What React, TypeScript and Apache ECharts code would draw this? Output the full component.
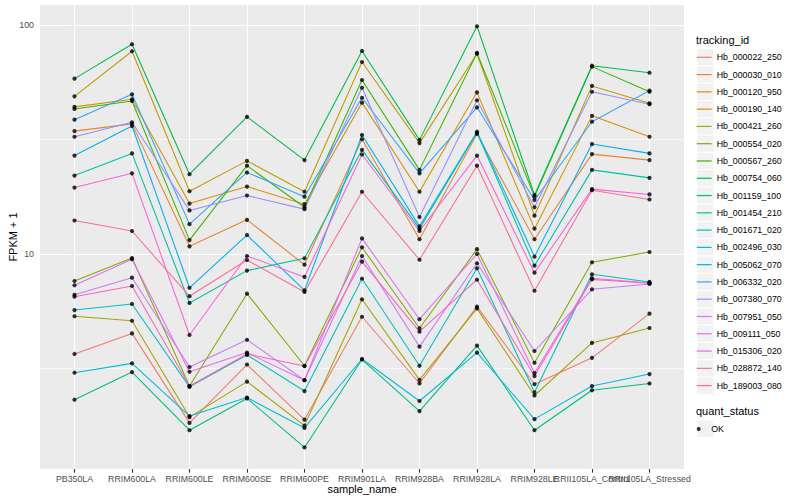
import React, { useEffect, useRef } from 'react';
import * as echarts from 'echarts';

const categories = ['PB350LA', 'RRIM600LA', 'RRIM600LE', 'RRIM600SE', 'RRIM600PE', 'RRIM901LA', 'RRIM928BA', 'RRIM928LA', 'RRIM928LE', 'RRII105LA_Control', 'RRII105LA_Stressed'];

const trackingIds = ['Hb_000022_250', 'Hb_000030_010', 'Hb_000120_950', 'Hb_000190_140', 'Hb_000421_260', 'Hb_000554_020', 'Hb_000567_260', 'Hb_000754_060', 'Hb_001159_100', 'Hb_001454_210', 'Hb_001671_020', 'Hb_002496_030', 'Hb_005062_070', 'Hb_006332_020', 'Hb_007380_070', 'Hb_007951_050', 'Hb_009111_050', 'Hb_015306_020', 'Hb_028872_140', 'Hb_189003_080'];

const seriesColors = ['#F8766D', '#EA8331', '#D89000', '#C09B00', '#A3A500', '#7CAE00', '#39B600', '#00BB4E', '#00BF7D', '#00C1A3', '#00BFC4', '#00BAE0', '#00B0F6', '#35A2FF', '#9590FF', '#C77CFF', '#E76BF3', '#FA62DB', '#FF62BC', '#FF6C91'];

// FPKM + 1 values, one array per tracking id, in category order
const hb000022_250 = [3.66, 4.50, 1.83, 3.29, 1.89, 5.32, 2.72, 5.89, 2.70, 3.52, 5.49];
const hb000030_010 = [34.4, 37.0, 10.8, 14.1, 8.98, 31.7, 11.6, 33.4, 11.6, 27.3, 25.7];
const hb000120_950 = [43.9, 47.4, 16.6, 19.7, 16.5, 45.8, 18.7, 50.8, 12.9, 40.1, 32.5];
const hb000190_140 = [48.8, 76.8, 18.8, 25.5, 18.7, 68.9, 30.5, 74.9, 14.7, 54.2, 45.5];
const hb000421_260 = [5.35, 5.11, 1.94, 2.77, 1.78, 6.34, 2.82, 5.79, 2.41, 4.09, 4.75];
const hb000554_020 = [7.62, 9.60, 2.65, 6.71, 3.25, 10.7, 4.74, 10.5, 3.35, 9.20, 10.2];
const hb000567_260 = [43.0, 46.6, 11.5, 24.3, 16.0, 57.5, 23.3, 75.5, 17.8, 65.8, 51.1];
const hb000754_060 = [58.3, 82.4, 22.3, 39.7, 25.7, 77.0, 31.5, 98.7, 18.1, 66.4, 61.9];
const hb001159_100 = [2.31, 3.05, 1.70, 2.34, 1.43, 3.46, 2.06, 3.98, 1.70, 2.54, 2.72];
const hb001454_210 = [22.0, 27.5, 6.11, 8.46, 9.58, 28.5, 12.9, 33.9, 8.89, 23.3, 21.5];
const hb001671_020 = [5.69, 6.05, 2.63, 3.62, 2.52, 7.80, 3.25, 8.66, 2.49, 8.15, 7.55];
const hb002496_030 = [3.03, 3.33, 1.96, 2.36, 1.74, 3.48, 2.28, 3.71, 1.90, 2.65, 2.99];
const hb005062_070 = [26.9, 36.2, 7.12, 12.1, 6.94, 33.1, 13.2, 34.2, 9.73, 30.2, 27.5];
const hb006332_020 = [38.6, 49.8, 13.5, 22.7, 17.8, 48.1, 22.5, 43.7, 17.2, 37.8, 51.7];
const hb007380_070 = [32.5, 37.6, 15.5, 18.0, 15.7, 53.2, 14.5, 46.9, 16.0, 51.1, 45.1];
const hb007951_050 = [6.64, 7.88, 3.21, 4.22, 2.81, 9.80, 3.94, 9.11, 3.77, 7.01, 7.40];
const hb009111_050 = [7.30, 9.48, 3.06, 3.71, 2.81, 11.7, 5.19, 10.0, 3.02, 7.83, 7.47];
const hb015306_020 = [19.5, 22.5, 4.43, 9.80, 7.94, 27.2, 12.6, 26.9, 8.29, 19.2, 18.2];
const hb028872_140 = [6.51, 7.25, 2.65, 3.66, 3.24, 9.26, 4.58, 7.72, 2.93, 7.75, 7.45];
const hb189003_080 = [14.0, 12.6, 6.54, 9.41, 6.83, 18.7, 9.44, 24.3, 6.91, 19.0, 17.3];

const seriesValues = [hb000022_250, hb000030_010, hb000120_950, hb000190_140, hb000421_260, hb000554_020, hb000567_260, hb000754_060, hb001159_100, hb001454_210, hb001671_020, hb002496_030, hb005062_070, hb006332_020, hb007380_070, hb007951_050, hb009111_050, hb015306_020, hb028872_140, hb189003_080];

// log10 breaks
const yMajorBreaks = [1, 2];
const yMinorBreaks = [0.5, 1.5];
const yTickLabels = ['10', '100'];

const FONT = "'Liberation Sans', Arial, Helvetica, sans-serif";
const KEY = 17.28;
const LEG_LEFT = 696.7;
const LEG1_TOP = 48.66;
const LEG2_TOP = 420.3;

function buildOption() {
  const lineSeries = trackingIds.map((id, s) => ({
    name: id,
    type: 'line',
    xAxisIndex: 0,
    z: 2,
    showSymbol: false,
    symbol: 'none',
    silent: true,
    color: seriesColors[s],
    lineStyle: { width: 1.07, color: seriesColors[s] },
    itemStyle: { color: seriesColors[s] },
    data: seriesValues[s].map((v, i) => [i, Math.log10(v)]),
  }));

  const points: number[][] = [];
  seriesValues.forEach((arr) => arr.forEach((v, i) => points.push([i, Math.log10(v)])));

  const gridLines = [
    ...yMinorBreaks.map((v) => ({ yAxis: v, lineStyle: { width: 0.55 } })),
    ...yMajorBreaks.map((v) => ({ yAxis: v, lineStyle: { width: 1.07 } })),
    ...categories.map((_, i) => ({ xAxis: i, lineStyle: { width: 1.07 } })),
  ];

  const okSeries = {
    name: 'OK',
    type: 'scatter',
    xAxisIndex: 0,
    z: 3,
    silent: true,
    symbol: 'circle',
    symbolSize: 4.2,
    itemStyle: { color: '#000000' },
    data: points,
    markLine: {
      z: 1,
      silent: true,
      symbol: ['none', 'none'],
      label: { show: false },
      emphasis: { disabled: true },
      lineStyle: { color: '#FFFFFF', type: 'solid', width: 1 },
      data: gridLines,
    },
  };

  const keyRects: any[] = [];
  trackingIds.forEach((_, i) => {
    keyRects.push({
      type: 'rect',
      z: 0,
      shape: { x: LEG_LEFT, y: LEG1_TOP + i * KEY, width: KEY, height: KEY },
      style: { fill: '#F2F2F2', stroke: '#FFFFFF', lineWidth: 1 },
    });
  });
  keyRects.push({
    type: 'rect',
    z: 0,
    shape: { x: LEG_LEFT, y: LEG2_TOP, width: KEY, height: KEY },
    style: { fill: '#F2F2F2', stroke: '#FFFFFF', lineWidth: 1 },
  });

  const allIdx = categories.map((_, i) => i);
  // the two neighbouring labels overlap in the original; split them over two axes
  const overlapIdx = [9];
  const mainIdx = allIdx.filter((i) => overlapIdx.indexOf(i) < 0);

  const xLabelBase = {
    formatter: (v: number) => categories[Math.round(v)],
    color: '#4D4D4D',
    fontSize: 8.8,
    fontFamily: FONT,
    margin: 5,
    showMinLabel: true,
    showMaxLabel: true,
    hideOverlap: false,
  };

  return {
    animation: false,
    textStyle: { fontFamily: FONT },
    grid: {
      left: 40,
      top: 5,
      right: 116,
      bottom: 31,
      show: true,
      backgroundColor: '#EBEBEB',
      borderWidth: 0,
      containLabel: false,
      outerBoundsMode: 'none',
    },
    xAxis: [
      {
        type: 'value',
        position: 'bottom',
        min: -0.6,
        max: 10.6,
        axisLine: { show: false },
        splitLine: { show: false },
        axisTick: {
          show: true,
          customValues: allIdx,
          length: 3.7,
          lineStyle: { color: '#333333', width: 1.07 },
        },
        axisLabel: { ...xLabelBase, customValues: mainIdx },
        name: 'sample_name',
        nameLocation: 'middle',
        nameGap: 14,
        nameMoveOverlap: false,
        nameTextStyle: { color: '#000000', fontSize: 11, fontFamily: FONT },
      },
      {
        type: 'value',
        position: 'bottom',
        offset: 0,
        min: -0.6,
        max: 10.6,
        axisLine: { show: false },
        splitLine: { show: false },
        axisTick: { show: false },
        axisLabel: { ...xLabelBase, customValues: overlapIdx },
      },
    ],
    yAxis: {
      type: 'value',
      min: 0.0611,
      max: 2.0873,
      axisLine: { show: false },
      splitLine: { show: false },
      axisTick: {
        show: true,
        customValues: yMajorBreaks,
        length: 3.7,
        lineStyle: { color: '#333333', width: 1.07 },
      },
      axisLabel: {
        customValues: yMajorBreaks,
        formatter: (v: number) => yTickLabels[yMajorBreaks.indexOf(Math.round(v))] ?? '',
        color: '#4D4D4D',
        fontSize: 8.8,
        fontFamily: FONT,
        margin: 6,
        showMinLabel: true,
        showMaxLabel: true,
      },
      name: 'FPKM + 1',
      nameLocation: 'middle',
      nameGap: 22,
      nameMoveOverlap: false,
      nameTextStyle: { color: '#000000', fontSize: 11, fontFamily: FONT },
    },
    legend: [
      {
        data: trackingIds,
        orient: 'vertical',
        left: LEG_LEFT,
        top: LEG1_TOP,
        padding: 0,
        itemGap: 0,
        itemWidth: 15,
        itemHeight: 1.2,
        icon: 'rect',
        selectedMode: false,
        textStyle: { fontSize: 8.8, lineHeight: KEY, color: '#000000', fontFamily: FONT },
      },
      {
        data: ['OK'],
        orient: 'vertical',
        left: LEG_LEFT,
        top: LEG2_TOP,
        padding: 0,
        itemGap: 0,
        itemWidth: 15,
        itemHeight: 4,
        icon: 'circle',
        selectedMode: false,
        textStyle: { fontSize: 8.8, lineHeight: KEY, color: '#000000', fontFamily: FONT },
      },
    ],
    graphic: [
      ...keyRects,
      {
        type: 'text',
        left: LEG_LEFT - 0.7,
        top: 34,
        style: { text: 'tracking_id', fontSize: 11, fill: '#000000', fontFamily: FONT },
      },
      {
        type: 'text',
        left: LEG_LEFT - 0.7,
        top: 405.6,
        style: { text: 'quant_status', fontSize: 11, fill: '#000000', fontFamily: FONT },
      },
    ],
    series: [...lineSeries, okSeries],
  };
}

export default function App() {
  const ref = useRef<HTMLDivElement>(null);
  useEffect(() => {
    if (!ref.current) return;
    const chart = echarts.init(ref.current, null, { renderer: 'svg' });
    chart.setOption(buildOption() as any);
    return () => chart.dispose();
  }, []);
  return (
    <div
      ref={ref}
      style={{ position: 'fixed', left: 0, top: 0, width: 800, height: 500, background: '#FFFFFF' }}
    />
  );
}
